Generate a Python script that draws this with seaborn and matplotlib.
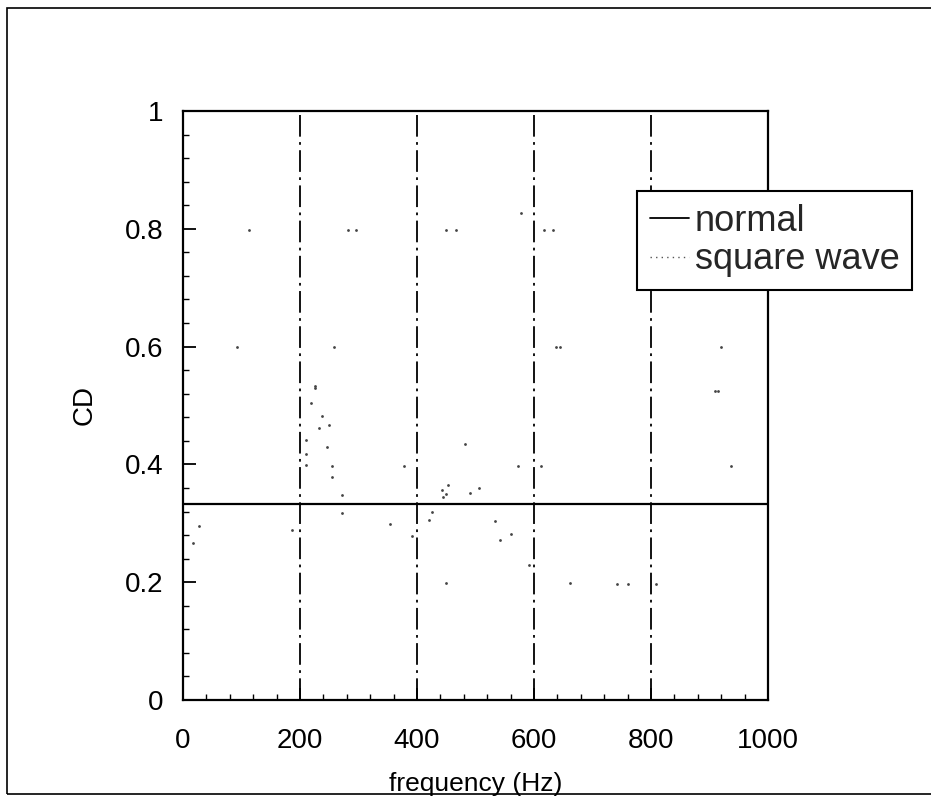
import matplotlib
matplotlib.use("Agg")
import matplotlib.pyplot as plt
from matplotlib.ticker import AutoMinorLocator, FuncFormatter
from matplotlib.lines import Line2D
from matplotlib.patches import Rectangle
import seaborn as sns
import pandas as pd

# ---- data ----
normal_freq = [0, 1000]
normal_cd = [0.333, 0.333]

sq_freq = [17, 28, 186, 210, 210, 210, 218, 226, 232, 238, 246, 250, 254, 254,
           271, 271, 354, 378, 391, 420, 426, 442, 444, 450, 453, 450, 482, 490,
           506, 534, 542, 561, 572, 592, 612, 662, 742, 760, 809, 914, 937,
           112, 282, 295, 450, 466, 578, 617, 632, 92, 258, 638, 644, 919, 226, 910]
sq_cd = [0.266, 0.296, 0.288, 0.441, 0.417, 0.399, 0.504, 0.530, 0.462, 0.482,
         0.429, 0.467, 0.398, 0.378, 0.348, 0.318, 0.298, 0.398, 0.278, 0.306,
         0.319, 0.357, 0.345, 0.349, 0.365, 0.199, 0.435, 0.351, 0.360, 0.304,
         0.272, 0.281, 0.398, 0.229, 0.398, 0.199, 0.197, 0.197, 0.197, 0.524,
         0.398, 0.798, 0.798, 0.798, 0.798, 0.798, 0.826, 0.798, 0.798, 0.599,
         0.599, 0.600, 0.600, 0.600, 0.533, 0.525]

x_ticks = [0, 200, 400, 600, 800, 1000]
y_ticks = [0, 0.2, 0.4, 0.6, 0.8, 1.0]
grid_x = [200, 400, 600, 800]

sns.set_theme(style="ticks")
plt.rcParams["font.family"] = ["Liberation Sans", "DejaVu Sans"]

fig = plt.figure(figsize=(9.31, 7.98), dpi=100)
ax = fig.add_axes([183 / 931, 1 - 700 / 798, (768 - 183) / 931, (700 - 111) / 798])

for gx in grid_x:
    ax.axvline(gx, color="black", lw=1.3, ls=(0, (12, 3, 1.5, 3)), zorder=1)

df_n = pd.DataFrame({"frequency": normal_freq, "CD": normal_cd})
sns.lineplot(data=df_n, x="frequency", y="CD", ax=ax, color="black", lw=1.6, zorder=3)

df_s = pd.DataFrame({"frequency": sq_freq, "CD": sq_cd})
sns.scatterplot(data=df_s, x="frequency", y="CD", ax=ax, color="#444444", s=4,
                linewidth=0, zorder=2)

ax.set_xlim(0, 1000)
ax.set_ylim(0, 1)
ax.set_xticks(x_ticks)
ax.set_yticks(y_ticks)
ax.xaxis.set_minor_locator(AutoMinorLocator(5))
ax.yaxis.set_minor_locator(AutoMinorLocator(5))
ax.yaxis.set_major_formatter(FuncFormatter(lambda v, p: f"{v:g}"))
ax.tick_params(axis="both", which="major", direction="in", length=9, width=1.3,
               labelsize=20, color="black", labelcolor="black")
ax.tick_params(axis="both", which="minor", direction="in", length=4.5, width=1.0,
               color="black")
ax.tick_params(axis="x", which="major", pad=20)
ax.tick_params(axis="y", which="major", pad=14)
for s in ax.spines.values():
    s.set_visible(True)
    s.set_linewidth(1.6)
    s.set_color("black")

ax.set_xlabel("frequency (Hz)", fontsize=19, labelpad=13, color="black")
ax.set_ylabel("CD", fontsize=20, labelpad=20, color="black")

handles = [Line2D([], [], color="black", lw=1.3),
           Line2D([], [], color="#555555", lw=1.0, ls=(0, (1, 3)))]
leg = fig.legend(handles, ["normal", "square wave"], loc="upper left",
                 bbox_to_anchor=(637 / 931, 1 - 191 / 798), borderaxespad=0,
                 fontsize=26, frameon=True, fancybox=False, framealpha=1,
                 edgecolor="black", handlelength=1.1, handletextpad=0.15,
                 borderpad=0.35, labelspacing=0.1)
leg.get_frame().set_linewidth(1.5)

fig.patches.append(Rectangle((7 / 931, 1 - 794 / 798), 1.0, (794 - 8) / 798,
                             transform=fig.transFigure, fill=False,
                             edgecolor="black", lw=1.2))

fig.savefig("out.png", dpi=100, facecolor="white")
